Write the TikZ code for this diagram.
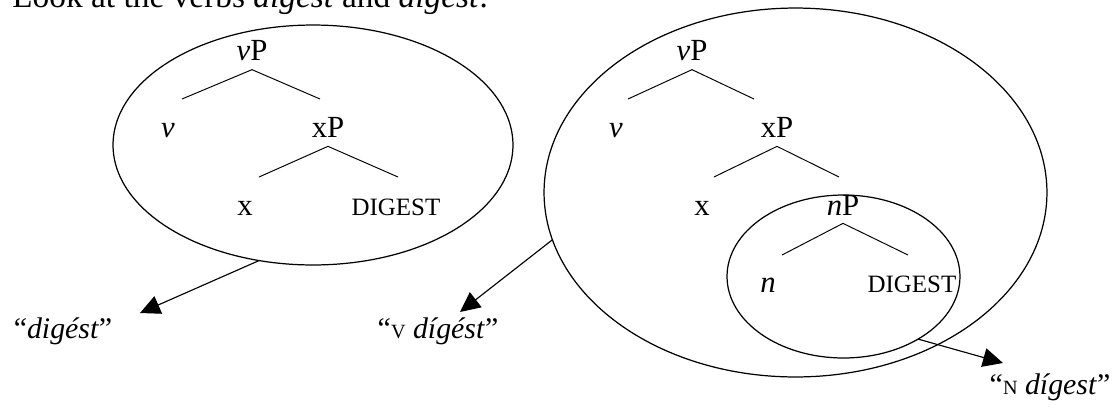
\documentclass[tikz,border=0pt]{standalone}
\usepackage{fontspec}
\setmainfont{Liberation Serif}
\usepackage{tikz}
\usetikzlibrary{shapes.geometric, arrows.meta, positioning}

\begin{document}
\begin{tikzpicture}[
    x=0.02cm, y=-0.02cm,
    cat/.style={anchor=base, inner sep=0.18cm, font=\fontsize{17.5}{20}\selectfont},
    lex/.style={anchor=base, inner sep=0pt, font=\fontsize{14.2}{17}\selectfont},
    gloss/.style={anchor=base, inner sep=0pt, font=\fontsize{17}{20}\selectfont},
    bubble/.style={ellipse, draw, line width=0.7pt, inner sep=0pt, outer sep=0pt},
    branch/.style={line width=0.55pt},
    arr/.style={-{Triangle[length=0.4cm, width=0.38cm]}, line width=0.65pt}
]
\useasboundingbox (0,0) rectangle (1117,410);
\clip (0,0) rectangle (1117,410);

\node[gloss, anchor=base west, font=\fontsize{19}{22}\selectfont] (intro) at (12,7) {Look at the verbs \textit{digest} and \textit{digest}:};

% left tree
\node[bubble, minimum width=8cm, minimum height=4.8cm] (bubL) at (313,145) {};
\node[cat] (vPL) at (252,60) {\textit{v}P};
\node[cat] (vL) at (168,137) {\textit{v}};
\node[cat] (xPL) at (328,137) {xP};
\node[cat] (xL) at (245,215) {x};
\node[lex] (rootL) at (396,215) {DIGEST};
\coordinate (vPLa) at (182,99);
\coordinate (vPLb) at (320,99);
\coordinate (xPLa) at (259,177);
\coordinate (xPLb) at (398,177);
\draw[branch] (vPLa) -- (vPL.south) -- (vPLb);
\draw[branch] (xPLa) -- (xPL.south) -- (xPLb);

% right tree
\node[bubble, minimum width=10.06cm, minimum height=7.38cm] (bubR) at (795.5,192.5) {};
\node[bubble, minimum width=4.66cm, minimum height=3.26cm] (bubN) at (843.5,276.5) {};
\node[cat] (vPR) at (692,60) {\textit{v}P};
\node[cat] (vR) at (616,137) {\textit{v}};
\node[cat] (xPR) at (777,137) {xP};
\node[cat] (xR) at (702,215) {x};
\node[cat, inner sep=0.16cm] (nP) at (843,215) {\textit{n}P};
\node[cat] (n) at (768,292) {\textit{n}};
\node[lex] (rootR) at (912,292) {DIGEST};
\coordinate (vPRa) at (628,99);
\coordinate (vPRb) at (754,99);
\coordinate (xPRa) at (714,177);
\coordinate (xPRb) at (839,177);
\coordinate (nPa) at (782,255);
\coordinate (nPb) at (908,255);
\draw[branch] (vPRa) -- (vPR.south) -- (vPRb);
\draw[branch] (xPRa) -- (xPR.south) -- (xPRb);
\draw[branch] (nPa) -- (nP.south) -- (nPb);

% outputs
\node[gloss] (glV) at (63,338) {“\textit{digést}”};
\node[gloss] (glvV) at (438,338) {“{\fontsize{11.5}{12}\selectfont V} \textit{dígést}”};
\node[gloss] (glN) at (1050,394) {“{\fontsize{11.5}{12}\selectfont N} \textit{dígest}”};
\coordinate (tipV) at (140,313);
\coordinate (tipvV) at (460,312);
\coordinate (tipN) at (1003,363);
\draw[arr] (bubL.245) -- (tipV);
\draw[arr] (bubR.191.8) -- (tipvV);
\draw[arr] (bubN.320.5) -- (tipN);
\end{tikzpicture}
\end{document}
